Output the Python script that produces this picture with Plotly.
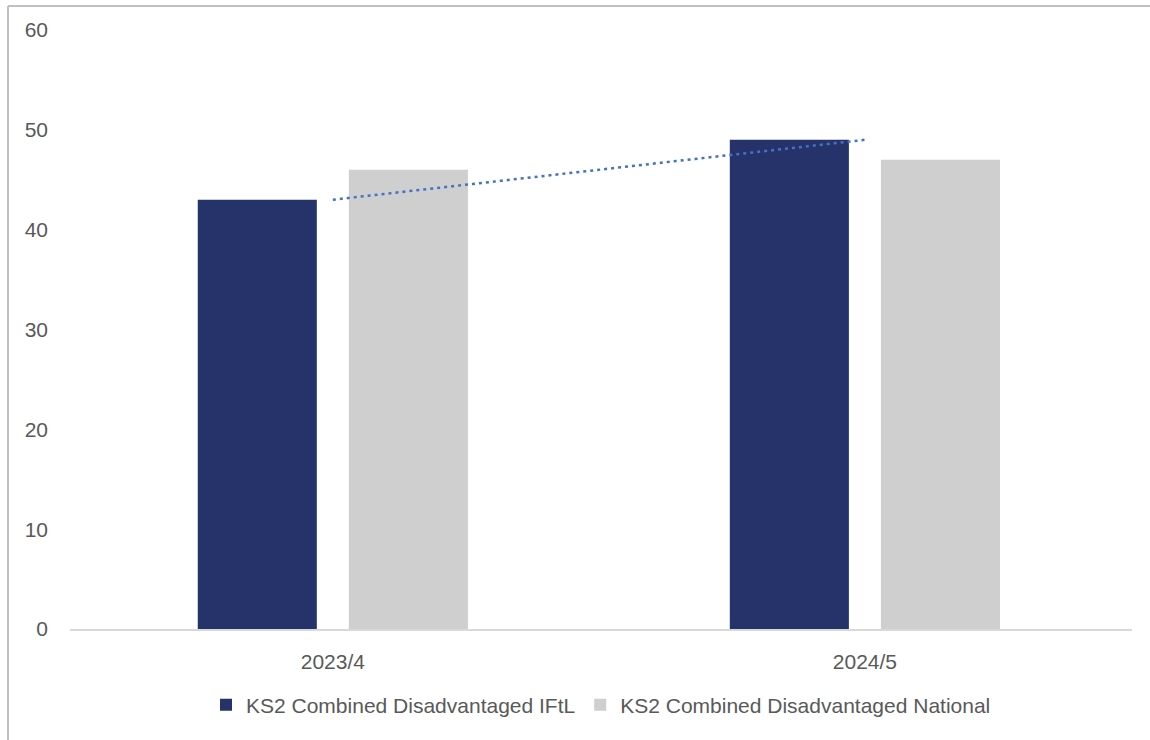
import numpy as np
import plotly.graph_objects as go

# Data
years = ["2023/4", "2024/5"]
iftl = [43, 49]
national = [46, 47]
y_ticks = [0, 10, 20, 30, 40, 50, 60]

NAVY = "#25336A"
GREY = "#D0CFD0"
TEXT = "#595959"
FONT = "Liberation Sans, Arial, Helvetica, sans-serif"

# Linear trendline through the IFtL series
idx = np.arange(len(years))
slope, intercept = np.polyfit(idx, iftl, 1)
trend = slope * idx + intercept

fig = go.Figure()
fig.add_trace(go.Bar(x=years, y=iftl, name="KS2 Combined Disadvantaged IFtL",
                     marker=dict(color=NAVY, line=dict(width=0))))
fig.add_trace(go.Bar(x=years, y=national, name="KS2 Combined Disadvantaged National",
                     marker=dict(color=GREY, line=dict(width=0))))
fig.add_trace(go.Scatter(x=years, y=trend, mode="lines", showlegend=False,
                         line=dict(color="#4472C4", width=2.5, dash="3px,4px")))

W, H = 1150, 740
L, R, T, B = 70, 18, 30, 111
pw, ph = W - L - R, H - T - B

fig.update_layout(
    width=W, height=H,
    margin=dict(l=L, r=R, t=T, b=B),
    paper_bgcolor="white", plot_bgcolor="white",
    barmode="group", bargap=0.432, bargroupgap=0.212,
    font=dict(family=FONT, size=21, color=TEXT),
    xaxis=dict(range=[-0.494, 1.502], showgrid=False, zeroline=False,
               showline=True, linecolor="#D9D9D9", linewidth=2,
               ticks="", ticklabelstandoff=13,
               tickfont=dict(family=FONT, size=21, color=TEXT)),
    yaxis=dict(range=[0, 60], tickvals=y_ticks, showgrid=False, zeroline=False,
               showline=False, ticks="", ticklabelstandoff=21,
               tickfont=dict(family=FONT, size=21, color=TEXT)),
    legend=dict(orientation="h", x=0.5, xanchor="center",
                y=(H - B - 705) / ph, yanchor="middle",
                font=dict(family=FONT, size=21, color=TEXT),
                itemwidth=30, traceorder="normal"),
    shapes=[
        # chart frame: top and left edges
        dict(type="line", xref="paper", yref="paper",
             x0=(8 - L) / pw, x1=(W - L) / pw,
             y0=(H - B - 6) / ph, y1=(H - B - 6) / ph,
             line=dict(color="#BFBFBF", width=2)),
        dict(type="line", xref="paper", yref="paper",
             x0=(8 - L) / pw, x1=(8 - L) / pw,
             y0=(H - B - 6) / ph, y1=-(B) / ph,
             line=dict(color="#BFBFBF", width=2)),
    ],
)

fig.write_html("out.html")
